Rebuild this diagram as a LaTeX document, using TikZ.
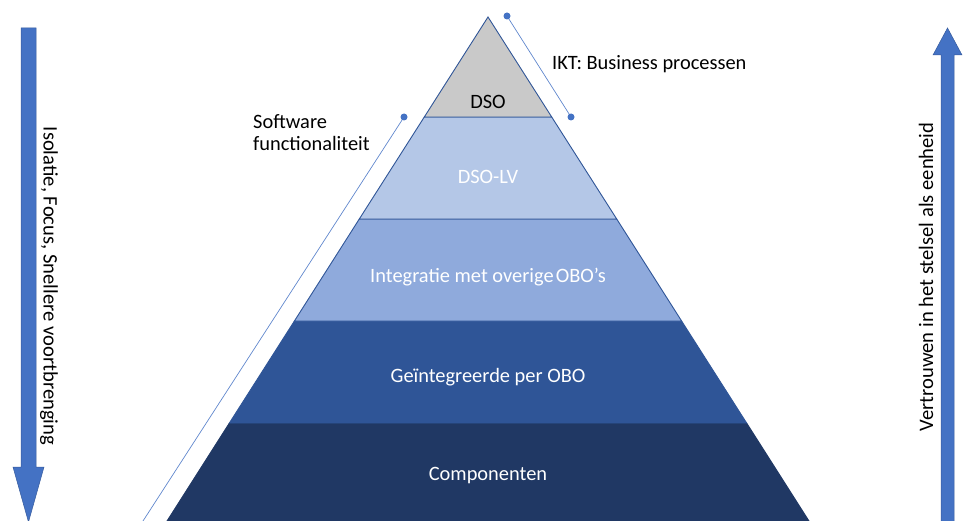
\documentclass[tikz,border=0pt]{standalone}
\usepackage{fontspec}
\setmainfont{Carlito}
\definecolor{dsogray}{HTML}{C9C9C9}
\definecolor{lvblue}{HTML}{B4C7E7}
\definecolor{intblue}{HTML}{8FAADC}
\definecolor{midblue}{HTML}{2F5597}
\definecolor{darkblue}{HTML}{203864}
\definecolor{accent}{HTML}{4472C4}
\definecolor{edge}{HTML}{2F5597}
\tikzset{
  layer/.style={draw=edge, line width=0.9pt, line join=miter},
  lbl/.style={font=\fontsize{20.4}{22}\selectfont, text=white, inner sep=0pt},
  lbldark/.style={font=\fontsize{20.4}{22}\selectfont, text=black, inner sep=0pt},
  sidelbl/.style={font=\fontsize{20.6}{22}\selectfont, text=black, inner sep=0pt},
  bigarrow/.style={fill=accent, draw=accent!80!black, line width=0.5pt},
  bracket/.style={draw=accent!85, line width=0.7pt},
  dot/.style={fill=accent, draw=none}
}
\begin{document}
\begin{tikzpicture}[x=1pt,y=-1pt]
\useasboundingbox (0,0) rectangle (963,521);
\begin{scope}
\clip (0,0) rectangle (963,521);
% pyramid layers
\coordinate (apex) at (488,17);
\coordinate (a1l) at (424.3,117); \coordinate (a1r) at (551.7,117);
\coordinate (a2l) at (359.3,219); \coordinate (a2r) at (616.7,219);
\coordinate (a3l) at (294.4,321); \coordinate (a3r) at (681.6,321);
\coordinate (a4l) at (229.4,423); \coordinate (a4r) at (746.6,423);
\coordinate (a5l) at (161.3,530); \coordinate (a5r) at (814.7,530);
\path[layer, fill=darkblue, draw=darkblue] (a4l) -- (a4r) -- (a5r) -- (a5l) -- cycle;
\path[layer, fill=midblue] (a3l) -- (a3r) -- (a4r) -- (a4l) -- cycle;
\path[layer, fill=intblue] (a2l) -- (a2r) -- (a3r) -- (a3l) -- cycle;
\path[layer, fill=lvblue] (a1l) -- (a1r) -- (a2r) -- (a2l) -- cycle;
\path[layer, fill=dsogray] (apex) -- (a1r) -- (a1l) -- cycle;

\node[lbldark] (dso) at (488,102) {DSO};
\node[lbl] (dsolv) at (488,177) {DSO-LV};
\node[lbl] (integratie) at (488,277) {Integratie met overige\hspace{0.1em}OBO’s};
\node[lbl] (geint) at (488,377) {Geïntegreerde per OBO};
\node[lbl] (comp) at (488,476) {Componenten};

% bracket lines
\coordinate (rt) at (507,16);
\coordinate (rb) at (571,117);
\coordinate (lt) at (404,117);
\coordinate (lb) at (143,521);
\draw[bracket] (rt) -- (rb);
\draw[bracket] (lt) -- (lb);
\fill[dot] (rt) circle (3.5);
\fill[dot] (rb) circle (3.5);
\fill[dot] (lt) circle (3.5);

\node[lbldark, anchor=west] (ikt) at (552,64) {IKT: Business processen};
\node[lbldark, anchor=west, align=left] (soft) at (253,133) {Software\\functionaliteit};

% big arrows
\path[bigarrow] (21,28) -- (36,28) -- (36,467) -- (44,467) -- (28.5,522) -- (13,467) -- (21,467) -- cycle;
\path[bigarrow] (941,522) -- (941,55) -- (933,55) -- (947.5,28) -- (962,55) -- (954,55) -- (954,522) -- cycle;
\end{scope}
\node[sidelbl, rotate=-90] (left) at (49,286) {Isolatie, Focus, Snellere voortbrenging};
\node[sidelbl, rotate=90] (right) at (926,277) {Vertrouwen in het stelsel als eenheid};
\end{tikzpicture}
\end{document}
